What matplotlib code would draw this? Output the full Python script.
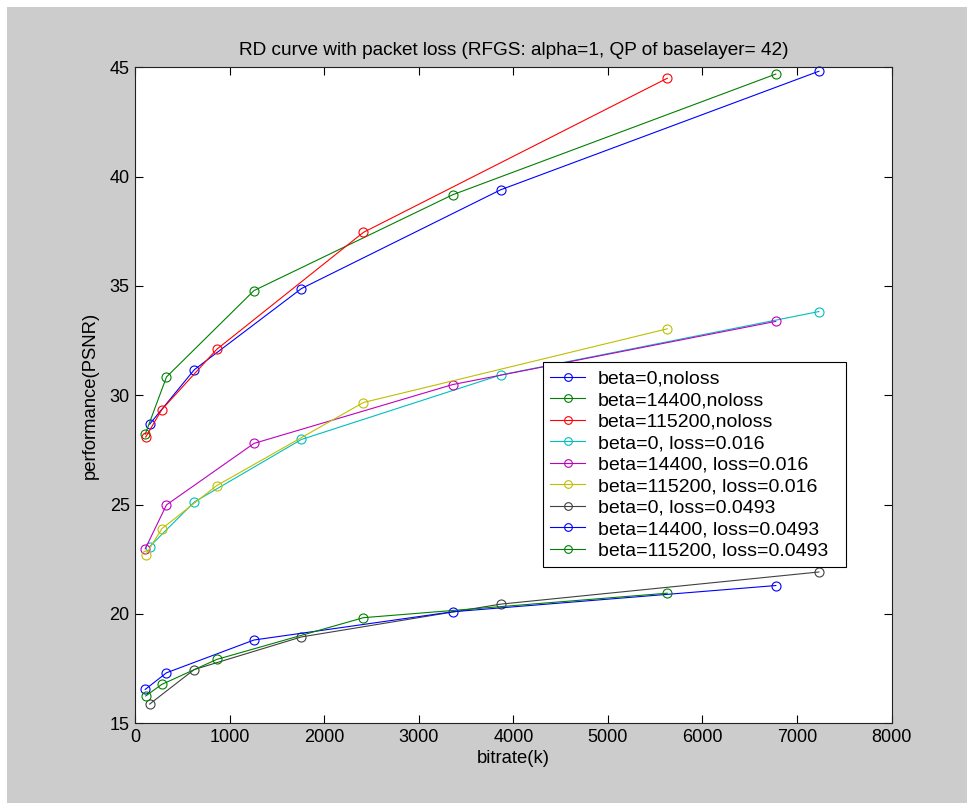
import matplotlib
matplotlib.use('Agg')
import matplotlib.pyplot as plt
from matplotlib.patches import Rectangle

# bitrates (k), one set per beta
rate_beta0 = [152, 624, 1757, 3866, 7232]
rate_beta14400 = [105, 330, 1256, 3357, 6776]
rate_beta115200 = [110, 281, 861, 2413, 5628]

# PSNR per curve
psnr_b0_noloss = [28.68, 31.17, 34.88, 39.40, 44.82]
psnr_b14400_noloss = [28.22, 30.84, 34.79, 39.17, 44.69]
psnr_b115200_noloss = [28.09, 29.35, 32.10, 37.45, 44.50]
psnr_b0_loss016 = [23.08, 25.12, 27.98, 30.93, 33.83]
psnr_b14400_loss016 = [22.98, 24.99, 27.80, 30.49, 33.38]
psnr_b115200_loss016 = [22.71, 23.90, 25.87, 29.67, 33.04]
psnr_b0_loss0493 = [15.88, 17.46, 18.95, 20.45, 21.92]
psnr_b14400_loss0493 = [16.55, 17.31, 18.81, 20.10, 21.30]
psnr_b115200_loss0493 = [16.25, 16.78, 17.92, 19.83, 20.95]

labels = ['beta=0,noloss', 'beta=14400,noloss', 'beta=115200,noloss',
          'beta=0, loss=0.016', 'beta=14400, loss=0.016', 'beta=115200, loss=0.016',
          'beta=0, loss=0.0493', 'beta=14400, loss=0.0493', 'beta=115200, loss=0.0493']

x_ticks = [0, 1000, 2000, 3000, 4000, 5000, 6000, 7000, 8000]
y_ticks = [15, 20, 25, 30, 35, 40, 45]

# old matlab colour order
colors = ['#0000ff', '#008000', '#ff0000', '#00bfbf', '#bf00bf', '#bfbf00',
          '#404040', '#0000ff', '#008000']

plt.rcParams['font.family'] = ['Liberation Sans', 'DejaVu Sans']

W, H = 975, 807
fig = plt.figure(figsize=(W / 100, H / 100), dpi=100, facecolor='white')
# grey matlab figure background inside a thin white border
bg = Rectangle((7 / W, 4 / H), (967 - 7) / W, (803 - 7) / H,
               transform=fig.transFigure, facecolor='#cccccc',
               edgecolor='none', zorder=-10)
fig.add_artist(bg)

ax = fig.add_axes([135.3 / W, (H - 723.3) / H, (891.5 - 135.3) / W, (723.3 - 67.3) / H])
ax.set_zorder(1)
ax.set_facecolor('white')

series = [
    (rate_beta0, psnr_b0_noloss),
    (rate_beta14400, psnr_b14400_noloss),
    (rate_beta115200, psnr_b115200_noloss),
    (rate_beta0, psnr_b0_loss016),
    (rate_beta14400, psnr_b14400_loss016),
    (rate_beta115200, psnr_b115200_loss016),
    (rate_beta0, psnr_b0_loss0493),
    (rate_beta14400, psnr_b14400_loss0493),
    (rate_beta115200, psnr_b115200_loss0493),
]

for (xs, ys), lab, col in zip(series, labels, colors):
    ax.plot(xs, ys, '-o', color=col, lw=0.8, markersize=6.5,
            markerfacecolor='none', markeredgewidth=0.8, label=lab, clip_on=False)

ax.set_xlim(0, 8000)
ax.set_ylim(15, 45)
ax.set_xticks(x_ticks)
ax.set_yticks(y_ticks)
ax.tick_params(direction='in', length=5.8, width=0.8, top=True, right=True,
               labelsize=13, pad=4, colors='black')
for sp in ax.spines.values():
    sp.set_linewidth(0.8)
    sp.set_color('#222222')

ax.set_xlabel('bitrate(k)', fontsize=13.3, labelpad=3)
ax.set_ylabel('performance(PSNR)', fontsize=13.3, labelpad=8)
ax.set_title('RD curve with packet loss (RFGS: alpha=1, QP of baselayer= 42)',
             fontsize=13.7, pad=9)

# legend box stretched to the width used in the original
leg = ax.legend(loc='upper left', bbox_to_anchor=(0.5387, 0.0, 0.4011, 0.5503),
                mode='expand', fontsize=14,
                frameon=True, fancybox=False, framealpha=1, edgecolor='black',
                borderpad=0.4, labelspacing=0.2, handlelength=1.8,
                handletextpad=0.65, borderaxespad=0, markerscale=0.85)
leg.get_frame().set_linewidth(0.8)

fig.savefig('out.png', dpi=100, facecolor=fig.get_facecolor())
